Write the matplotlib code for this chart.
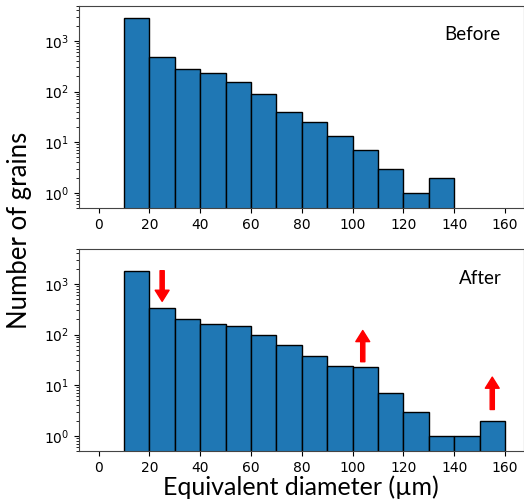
import numpy as np
import matplotlib
matplotlib.use("Agg")
import matplotlib.pyplot as plt

# histogram bins (equivalent diameter, um) and grain counts
edges_before = [10, 20, 30, 40, 50, 60, 70, 80, 90, 100, 110, 120, 130, 140]
counts_before = [2860, 488, 278, 231, 155, 88, 39, 25, 13, 7, 3, 1, 2]

edges_after = [10, 20, 30, 40, 50, 60, 70, 80, 90, 100, 110, 120, 130, 140, 150, 160]
counts_after = [1790, 332, 204, 162, 145, 98, 62, 37, 23.5, 22.8, 7, 3, 1, 1, 2]

# red arrows in the lower panel: (x, tail, head)
arrow_x = [25, 104, 155]
arrow_tail = [1820, 29, 3.3]
arrow_head = [452, 120, 14.4]

label_font = "Lato"

fig = plt.figure(figsize=(5.24, 5.0), dpi=100)
ax1 = fig.add_axes([0.150, 0.584, 0.850, 0.405])
ax2 = fig.add_axes([0.150, 0.098, 0.850, 0.405])


def draw_hist(ax, edges, counts):
    left = np.array(edges[:-1])
    widths = np.diff(edges)
    ax.bar(left, counts, width=widths, align="edge", color="#1f77b4",
           edgecolor="black", linewidth=1.0)
    ax.set_yscale("log")
    ax.set_ylim(0.5, 5000)
    ax.set_xlim(-7.9, 167.5)
    ax.set_xticks([0, 20, 40, 60, 80, 100, 120, 140, 160])
    ax.tick_params(labelsize=10)
    for s in ax.spines.values():
        s.set_color("#444444")


draw_hist(ax1, edges_before, counts_before)
draw_hist(ax2, edges_after, counts_after)

ax1.text(0.883, 0.855, "Before", transform=ax1.transAxes, fontsize=13.5,
         family=label_font, ha="center", va="center")
ax2.text(0.901, 0.851, "After", transform=ax2.transAxes, fontsize=13.5,
         family=label_font, ha="center", va="center")

for x, t, h in zip(arrow_x, arrow_tail, arrow_head):
    ax2.annotate("", xy=(x, h), xytext=(x, t),
                 arrowprops=dict(facecolor="red", edgecolor="red", width=3,
                                 headwidth=10, headlength=8, shrink=0))

fig.text(0.575, 0.026, "Equivalent diameter (µm)", fontsize=18,
         family=label_font, ha="center", va="center")
fig.text(0.038, 0.54, "Number of grains", rotation=90, fontsize=18.5,
         family=label_font, ha="center", va="center")

fig.savefig("out.png", dpi=100)
